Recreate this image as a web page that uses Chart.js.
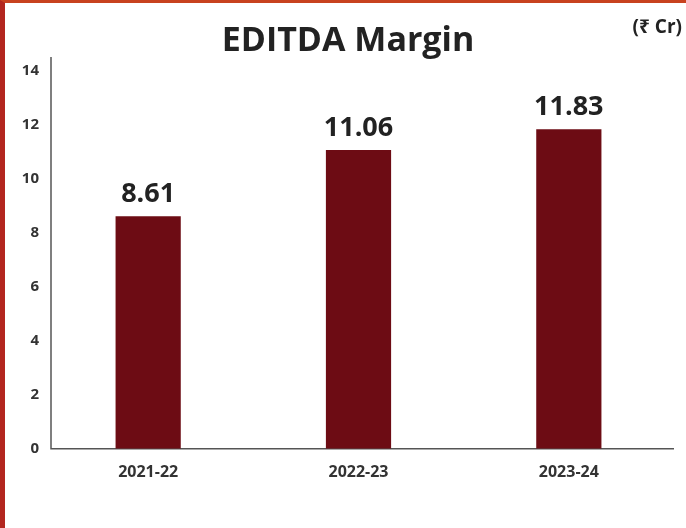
<!DOCTYPE html>
<html>
<head>
<meta charset="utf-8">
<script src="https://cdn.jsdelivr.net/npm/chart.js@4.4.1/dist/chart.umd.min.js"></script>
<style>
  html, body { margin: 0; padding: 0; background: #fff; }
  #wrap {
    width: 681px; height: 525px;
    border-left: 5px solid #b3261f;
    border-top: 3px solid #c8421f;
    background: #fff;
  }
</style>
</head>
<body>
<div id="wrap"><canvas id="marginChart" width="681" height="525"></canvas></div>
<script>
const years = ['2021-22', '2022-23', '2023-24'];
const ebitdaMargin = [8.61, 11.06, 11.83];
const yTicks = [0, 2, 4, 6, 8, 10, 12, 14];
const chartTitle = 'EDITDA Margin';
const unitLabel = '(\u20B9 Cr)';

const FONT = "'Open Sans', 'Noto Sans', sans-serif";

// title, unit note and value labels over the bars
const textLayer = {
    id: 'textLayer',
    afterDatasetsDraw(chart) {
        const ctx = chart.ctx;
        const meta = chart.getDatasetMeta(0);
        ctx.save();
        ctx.fillStyle = '#222';

        ctx.font = 'bold 34px ' + FONT;
        ctx.textAlign = 'center';
        ctx.textBaseline = 'middle';
        ctx.fillText(chartTitle, 343, 38);

        ctx.font = 'bold 27px ' + FONT;
        ctx.textBaseline = 'alphabetic';
        meta.data.forEach((bar, i) => {
            ctx.fillText(ebitdaMargin[i].toFixed(2), bar.x, bar.y - 14);
        });

        ctx.font = 'bold 19px ' + FONT;
        ctx.textAlign = 'right';
        ctx.textBaseline = 'middle';
        ctx.fillText(unitLabel, chart.width - 4, 25);
        ctx.restore();
    }
};

// axis lines: y axis sits a little inside the first category like the original
const axisLines = {
    id: 'axisLines',
    beforeDatasetsDraw(chart) {
        const {ctx, chartArea} = chart;
        const x0 = chartArea.left + 8;
        ctx.save();
        ctx.strokeStyle = '#555';
        ctx.lineWidth = 1.5;
        ctx.beginPath();
        ctx.moveTo(x0, chartArea.top);
        ctx.lineTo(x0, chartArea.bottom);
        ctx.lineTo(chartArea.right, chartArea.bottom);
        ctx.stroke();
        ctx.restore();
    }
};

const ctx = document.getElementById('marginChart').getContext('2d');
new Chart(ctx, {
    type: 'bar',
    data: {
        labels: years,
        datasets: [{
            data: ebitdaMargin,
            backgroundColor: '#6d0c14',
            barPercentage: 1,
            categoryPercentage: 0.31
        }]
    },
    options: {
        responsive: false,
        animation: false,
        layout: { padding: { left: 0, right: 12, top: 54, bottom: 40 } },
        plugins: {
            legend: { display: false },
            tooltip: { enabled: false },
            title: { display: false }
        },
        scales: {
            x: {
                grid: { display: false },
                border: { display: false },
                ticks: { color: '#333', font: { family: FONT, size: 16, weight: 'bold' }, padding: 6 }
            },
            y: {
                min: 0,
                max: 14.5,
                grid: { display: false },
                border: { display: false },
                afterBuildTicks(scale) {
                    scale.ticks = yTicks.map(v => ({ value: v }));
                },
                afterFit(scale) { scale.width = 38; },
                ticks: { color: '#333', font: { family: FONT, size: 15, weight: 'bold' }, padding: -4 }
            }
        }
    },
    plugins: [textLayer, axisLines]
});
</script>
</body>
</html>
